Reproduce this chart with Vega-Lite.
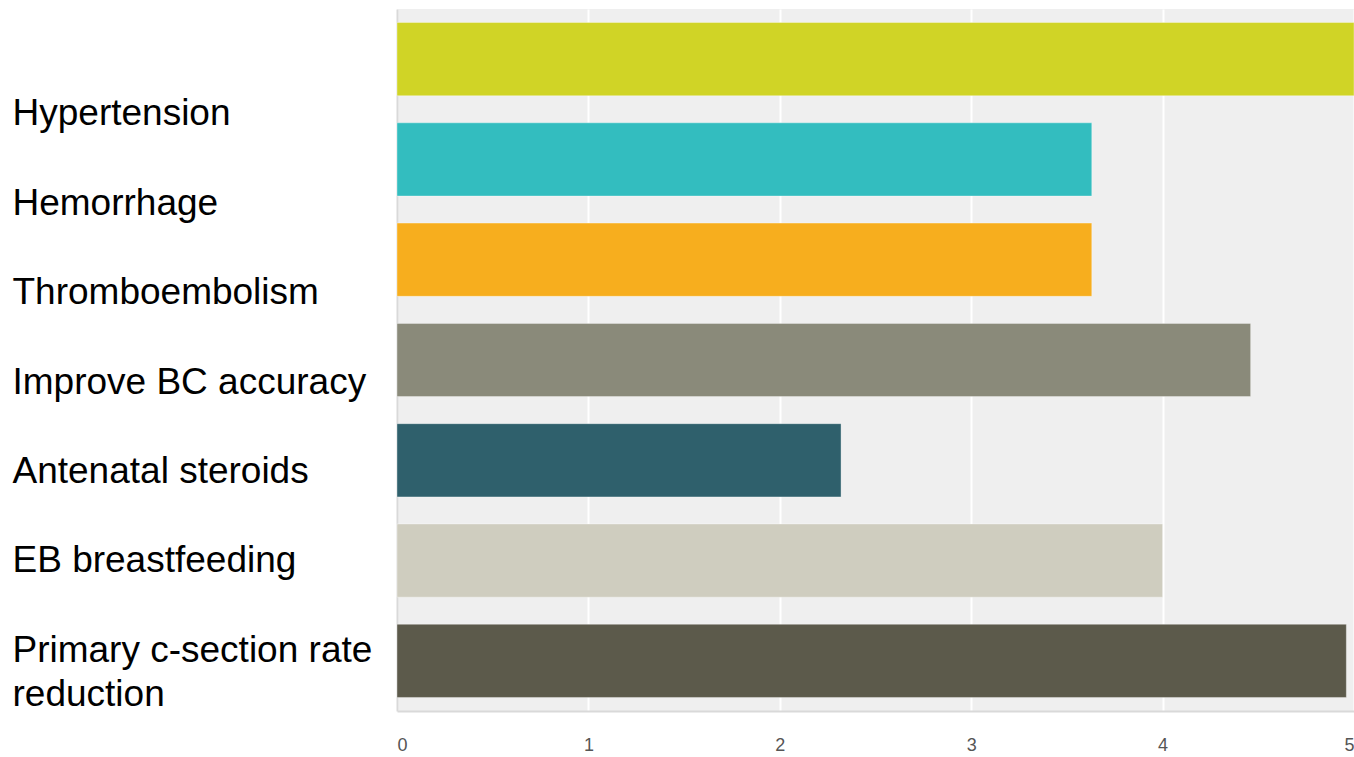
{
  "$schema": "https://vega.github.io/schema/vega-lite/v6.json",
  "width": 957,
  "height": 702,
  "autosize": "none",
  "padding": {"left": 397, "top": 9, "right": 0, "bottom": 46},
  "background": "white",
  "config": {"view": {"fill": "#efefef", "stroke": null}},
  "data": {
    "values": [
      {"measure": "Hypertension", "value": 5.0},
      {"measure": "Hemorrhage", "value": 3.63},
      {"measure": "Thromboembolism", "value": 3.63},
      {"measure": "Improve BC accuracy", "value": 4.46},
      {"measure": "Antenatal steroids", "value": 2.32},
      {"measure": "EB breastfeeding", "value": 4.0},
      {"measure": "Primary c-section rate reduction", "value": 4.96}
    ]
  },
  "mark": {"type": "bar", "stroke": "white", "strokeOpacity": 0.35, "strokeWidth": 1},
  "encoding": {
    "y": {
      "field": "measure",
      "type": "nominal",
      "sort": null,
      "scale": {"paddingInner": 0.27, "paddingOuter": 0.135},
      "axis": {
        "title": null,
        "domain": true,
        "domainColor": "#d9d9d9",
        "domainWidth": 2,
        "ticks": false,
        "grid": false,
        "labelAlign": "left",
        "labelBaseline": "middle",
        "labelPadding": 385,
        "labelOffset": {"expr": "55 - 65 * datum.index"},
        "labelFont": "Liberation Sans",
        "labelFontSize": 37,
        "labelColor": "black",
        "labelLimit": 400,
        "labelLineHeight": 44,
        "labelExpr": "datum.label == 'Primary c-section rate reduction' ? ['Primary c-section rate', 'reduction'] : datum.label"
      }
    },
    "x": {
      "field": "value",
      "type": "quantitative",
      "scale": {"domain": [0, 5], "nice": false},
      "axis": {
        "title": null,
        "values": [0, 1, 2, 3, 4, 5],
        "grid": true,
        "gridColor": "white",
        "gridWidth": 2,
        "domain": true,
        "domainColor": "#d9d9d9",
        "domainWidth": 2,
        "ticks": false,
        "labelFlush": true,
        "labelFont": "Liberation Sans",
        "labelFontSize": 18,
        "labelColor": "#555555",
        "labelPadding": 25
      }
    },
    "color": {
      "field": "measure",
      "type": "nominal",
      "sort": null,
      "scale": {
        "domain": ["Hypertension", "Hemorrhage", "Thromboembolism", "Improve BC accuracy", "Antenatal steroids", "EB breastfeeding", "Primary c-section rate reduction"],
        "range": ["#d0d426", "#33bdbf", "#f7ae1e", "#8a8a7a", "#2f606c", "#cfcdbf", "#5c5a4b"]
      },
      "legend": null
    }
  }
}
